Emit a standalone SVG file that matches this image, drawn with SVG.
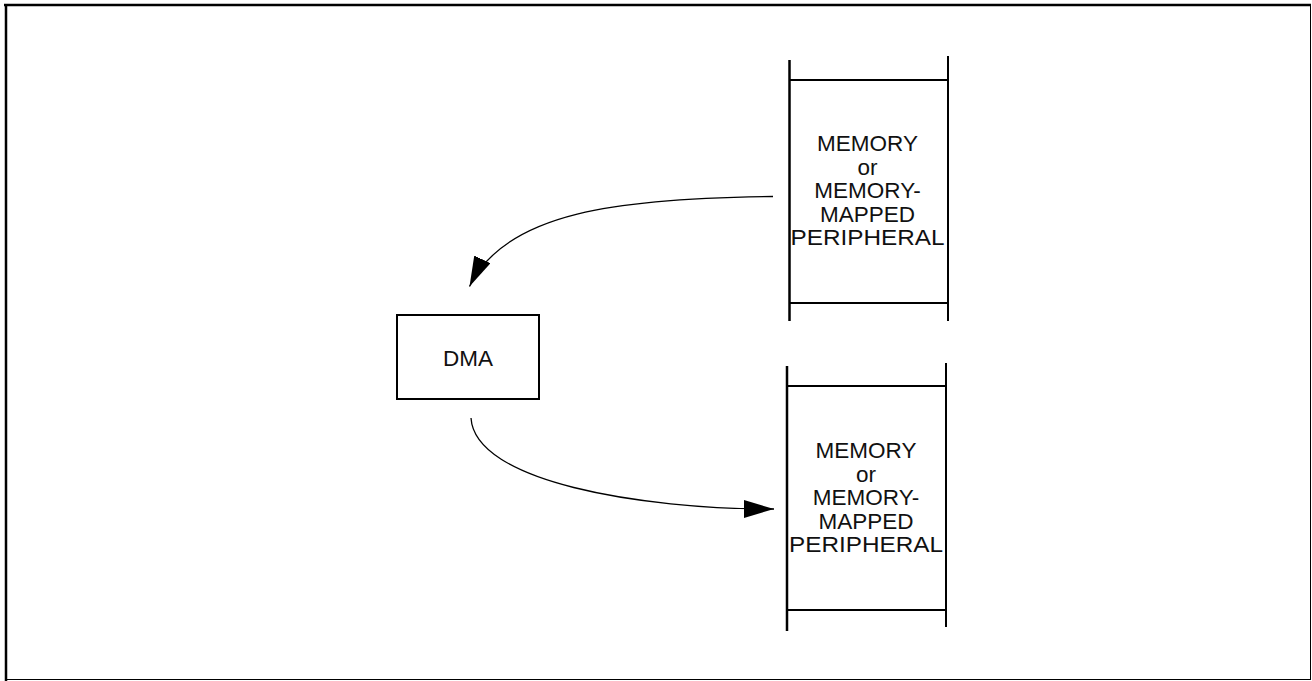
<svg xmlns="http://www.w3.org/2000/svg" width="1312" height="681" viewBox="0 0 1312 681">
<style>
.ln{stroke:#000;stroke-width:2;fill:none}
.box{stroke:#000;stroke-width:2;fill:#fff}
.con{stroke:#000;stroke-width:1.3;fill:none}
.t{font-family:"Liberation Sans",Arial,sans-serif;font-size:22.5px;fill:#111;text-anchor:middle}
</style>
<defs>
<marker id="ah" markerUnits="userSpaceOnUse" markerWidth="32" markerHeight="20" refX="30" refY="9" orient="auto" viewBox="0 0 32 20">
<path d="M0,0 L30,9 L0,18 Z" fill="#000"/>
</marker>
</defs>
<rect x="0" y="0" width="1312" height="681" fill="#fff"/>
<g id="frame">
<line x1="6" y1="4" x2="6" y2="681" stroke="#000" stroke-width="2.5"/>
<line x1="4" y1="5" x2="1311" y2="5" stroke="#000" stroke-width="2.5"/>
<line x1="1310.5" y1="5" x2="1310.5" y2="680" stroke="#000" stroke-width="1"/>
<line x1="6" y1="679.5" x2="1311" y2="679.5" stroke="#000" stroke-width="1"/>
</g>
<g id="mem1">
<line class="ln" x1="789.5" y1="60" x2="789.5" y2="321" style="stroke-width:2.5"/>
<line class="ln" x1="948" y1="56" x2="948" y2="321"/>
<line class="ln" x1="789" y1="80" x2="948" y2="80"/>
<line class="ln" x1="789" y1="303" x2="948" y2="303"/>
<text class="t" x="867.5" y="151">MEMORY</text>
<text class="t" x="867.5" y="174.5">or</text>
<text class="t" x="867.5" y="198">MEMORY-</text>
<text class="t" x="867.5" y="221.5">MAPPED</text>
<text class="t" x="867.5" y="245" textLength="154" lengthAdjust="spacingAndGlyphs">PERIPHERAL</text>
</g>
<g id="mem2">
<line class="ln" x1="787" y1="366" x2="787" y2="631" style="stroke-width:2.5"/>
<line class="ln" x1="946" y1="363" x2="946" y2="627"/>
<line class="ln" x1="787" y1="386" x2="946" y2="386"/>
<line class="ln" x1="787" y1="610" x2="946" y2="610"/>
<text class="t" x="866" y="458">MEMORY</text>
<text class="t" x="866" y="481.5">or</text>
<text class="t" x="866" y="505">MEMORY-</text>
<text class="t" x="866" y="528.5">MAPPED</text>
<text class="t" x="866" y="552" textLength="154" lengthAdjust="spacingAndGlyphs">PERIPHERAL</text>
</g>
<g id="dma">
<rect class="box" x="397" y="315" width="142" height="84"/>
<text class="t" x="468" y="366">DMA</text>
</g>
<g id="connectors">
<path class="con" d="M773,196.5 C620,198 505,212 469.5,286.5" marker-end="url(#ah)"/>
<path class="con" d="M471,418 C475,482 640,509 774,509" marker-end="url(#ah)"/>
</g>
</svg>
